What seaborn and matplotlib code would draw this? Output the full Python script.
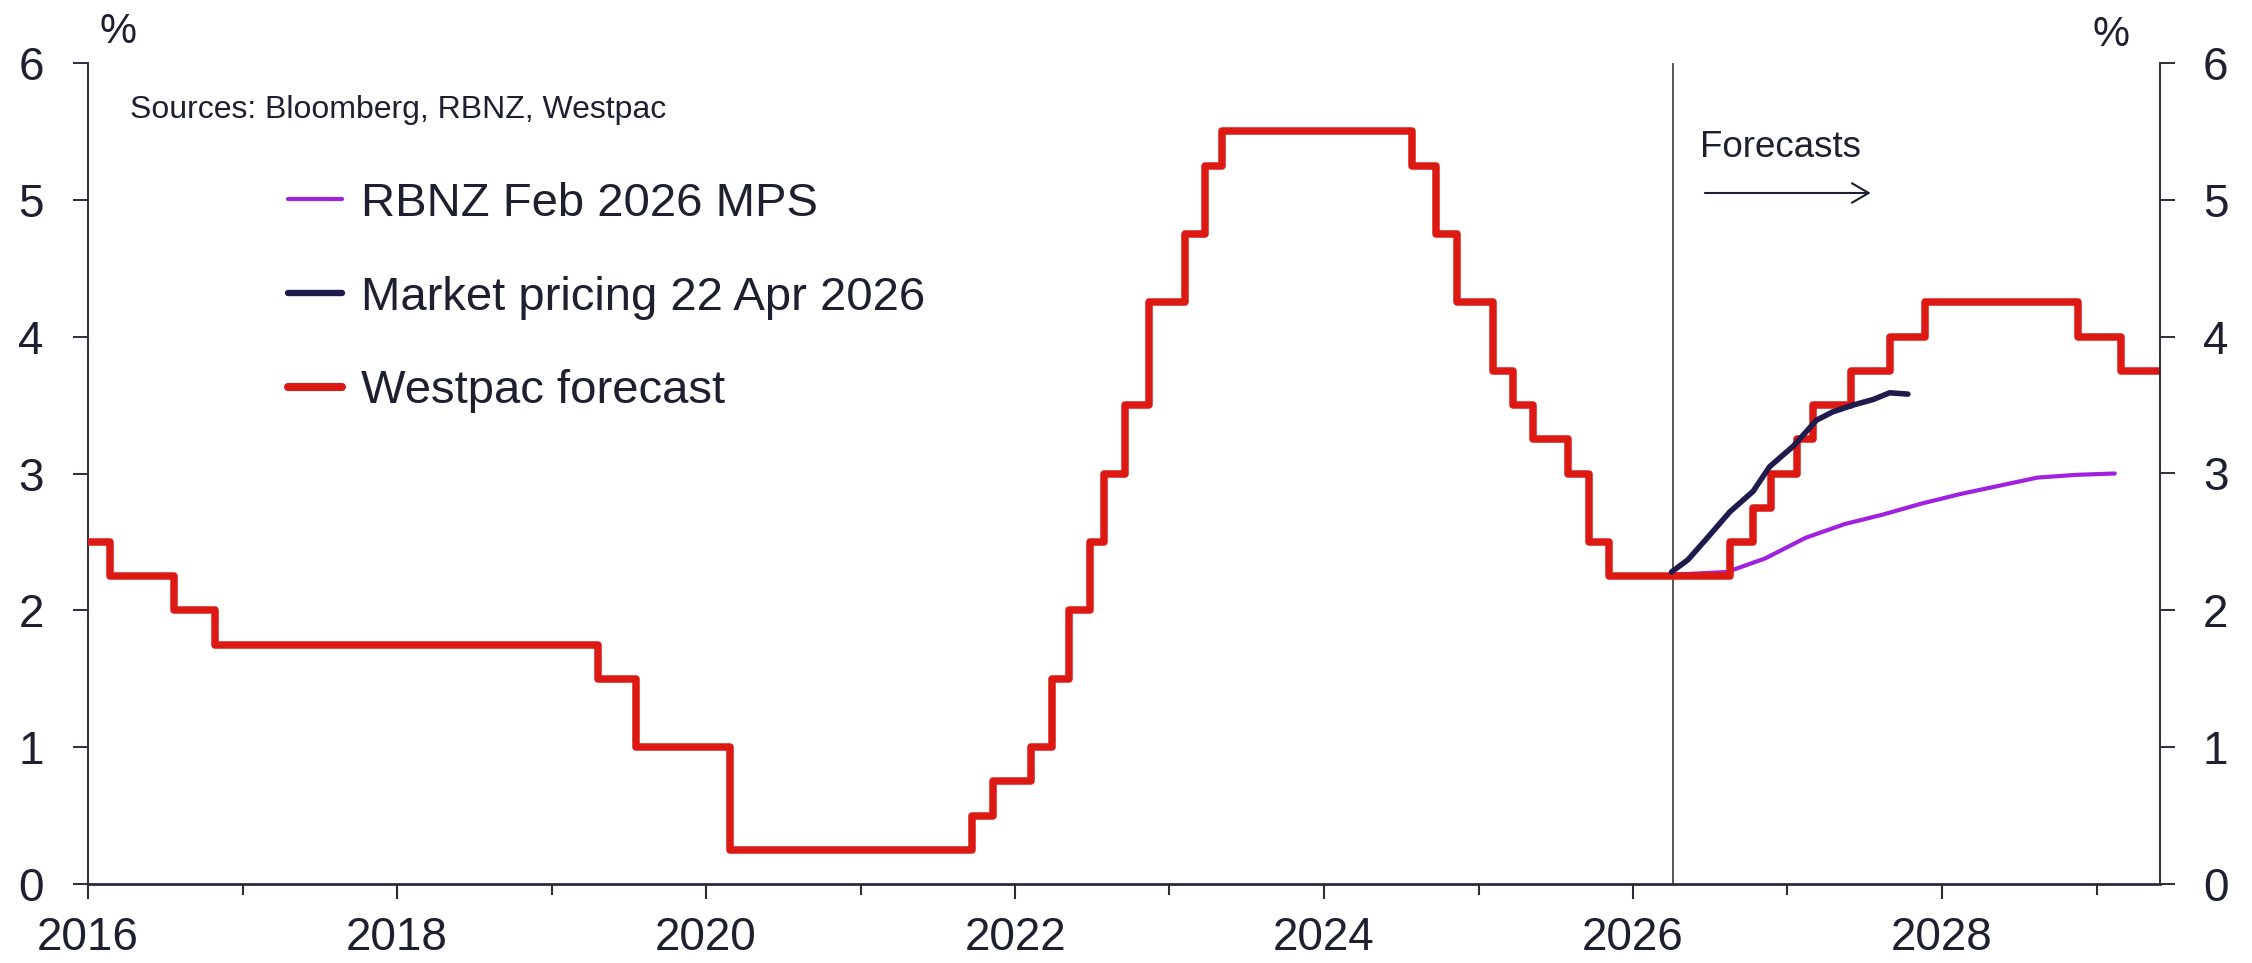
import matplotlib
matplotlib.use("Agg")
import matplotlib.pyplot as plt
import matplotlib.dates as mdates
from matplotlib.lines import Line2D
import pandas as pd
import seaborn as sns

# Westpac OCR path: date each level takes effect and the new level (%)
westpac_dates = [
    "2016-01-01", "2016-02-21", "2016-07-23", "2016-10-27", "2019-04-20",
    "2019-07-20", "2020-02-28", "2021-09-20", "2021-11-10", "2022-02-07",
    "2022-03-29", "2022-05-08", "2022-06-28", "2022-07-31", "2022-09-17",
    "2022-11-14", "2023-02-06", "2023-03-25", "2023-05-05", "2024-07-27",
    "2024-09-22", "2024-11-10", "2025-02-03", "2025-03-23", "2025-05-09",
    "2025-07-31", "2025-09-20", "2025-11-06",
    # forecast
    "2026-08-18", "2026-10-11", "2026-11-23", "2027-01-24", "2027-03-02",
    "2027-06-01", "2027-08-31", "2027-11-22", "2028-11-19", "2029-02-27",
    "2029-06-30",
]
westpac_levels = [
    2.50, 2.25, 2.00, 1.75, 1.50,
    1.00, 0.25, 0.50, 0.75, 1.00,
    1.50, 2.00, 2.50, 3.00, 3.50,
    4.25, 4.75, 5.25, 5.50, 5.25,
    4.75, 4.25, 3.75, 3.50, 3.25,
    3.00, 2.50, 2.25,
    2.50, 2.75, 3.00, 3.25, 3.50,
    3.75, 4.00, 4.25, 4.00, 3.75,
    3.75,
]

# Market-implied OCR, 22 Apr 2026
market_dates = [
    "2026-04-02", "2026-05-11", "2026-06-23", "2026-08-18", "2026-10-12",
    "2026-11-20", "2027-01-15", "2027-03-11", "2027-04-18", "2027-06-05",
    "2027-07-22", "2027-08-31", "2027-10-13",
]
market_rates = [2.28, 2.37, 2.52, 2.72, 2.87, 3.05, 3.20, 3.39, 3.45, 3.50,
                3.54, 3.59, 3.58]

# RBNZ February 2026 Monetary Policy Statement OCR track
mps_dates = [
    "2026-04-05", "2026-08-11", "2026-11-10", "2027-02-13", "2027-05-16",
    "2027-08-15", "2027-11-14", "2028-02-14", "2028-05-15", "2028-08-14",
    "2028-11-13", "2029-02-13",
]
mps_rates = [2.26, 2.28, 2.38, 2.53, 2.63, 2.70, 2.78, 2.85, 2.91, 2.97,
             2.99, 3.00]

forecast_start = "2026-04-05"
x_start, x_end = "2016-01-01", "2029-05-31"
y_ticks = [0, 1, 2, 3, 4, 5, 6]

RED = "#dc1913"
NAVY = "#1f1b4d"
PURPLE = "#a021e0"
INK = "#1e2030"
AXIS = "#2b2d3a"

sns.set_style("ticks")
plt.rcParams["font.family"] = ["Liberation Sans", "DejaVu Sans"]
plt.rcParams["text.color"] = INK

W, H = 2252, 963
fig = plt.figure(figsize=(W / 100, H / 100), dpi=100)
ax = fig.add_axes([88 / W, 1 - 884 / H, (2160 - 88) / W, (884 - 63) / H])

westpac = pd.DataFrame({"date": pd.to_datetime(westpac_dates), "rate": westpac_levels})
market = pd.DataFrame({"date": pd.to_datetime(market_dates), "rate": market_rates})
mps = pd.DataFrame({"date": pd.to_datetime(mps_dates), "rate": mps_rates})

sns.lineplot(data=mps, x="date", y="rate", ax=ax, color=PURPLE, lw=3.0,
             solid_capstyle="round", zorder=2, legend=False)
sns.lineplot(data=westpac, x="date", y="rate", ax=ax, color=RED, lw=5.4,
             drawstyle="steps-post", solid_joinstyle="round", zorder=3,
             legend=False)
sns.lineplot(data=market, x="date", y="rate", ax=ax, color=NAVY, lw=4.0,
             solid_capstyle="round", solid_joinstyle="round", zorder=4,
             legend=False)

ax.axvline(pd.Timestamp(forecast_start), color="#2a2a2a", lw=1.1, zorder=1)

ax.set_xlim(pd.Timestamp(x_start), pd.Timestamp(x_end))
ax.set_ylim(0, 6)
ax.set_yticks(y_ticks)
ax.set_xlabel("")
ax.set_ylabel("")

ax.xaxis.set_major_locator(mdates.YearLocator(2))
ax.xaxis.set_major_formatter(mdates.DateFormatter("%Y"))
ax.xaxis.set_minor_locator(mdates.YearLocator(1))

for s in ["top", "right"]:
    ax.spines[s].set_visible(False)
ax.spines["left"].set_color(AXIS)
ax.spines["left"].set_linewidth(1.4)
ax.spines["bottom"].set_color(AXIS)
ax.spines["bottom"].set_linewidth(2.0)

ax.tick_params(axis="y", which="major", length=10.8, width=1.4, pad=21,
               labelsize=33, color=AXIS, labelcolor=INK)
ax.tick_params(axis="x", which="major", length=10.8, width=1.5, pad=12,
               labelsize=33, color=AXIS, labelcolor=INK)
ax.tick_params(axis="x", which="minor", length=8, width=1.5, color=AXIS)

ax2 = ax.twinx()
ax2.set_ylim(0, 6)
ax2.set_yticks(y_ticks)
for s in ["top", "left", "bottom"]:
    ax2.spines[s].set_visible(False)
ax2.spines["right"].set_color(AXIS)
ax2.spines["right"].set_linewidth(1.4)
ax2.tick_params(axis="y", which="major", length=10.8, width=1.4, pad=20,
                labelsize=33, color=AXIS, labelcolor=INK)

fig.text(118 / W, 1 - 43 / H, "%", fontsize=30, ha="center", va="baseline")
fig.text(2111 / W, 1 - 46 / H, "%", fontsize=30, ha="center", va="baseline")

ax.text((130 - 88) / (2160 - 88), (884 - 118) / (884 - 63),
        "Sources: Bloomberg, RBNZ, Westpac", transform=ax.transAxes,
        fontsize=23, ha="left", va="baseline")

ax.text(mdates.date2num(pd.Timestamp("2026-06-08")), 5.31, "Forecasts",
        fontsize=26.5, ha="left", va="baseline")
ax.annotate("", xy=(mdates.date2num(pd.Timestamp("2027-07-17")), 5.05),
            xytext=(mdates.date2num(pd.Timestamp("2026-06-20")), 5.05),
            arrowprops=dict(arrowstyle="->,head_length=1.2,head_width=0.7",
                            color=INK, lw=1.5, shrinkA=0, shrinkB=0))

handles = [
    Line2D([], [], color=PURPLE, lw=3.0, solid_capstyle="round"),
    Line2D([], [], color=NAVY, lw=4.6, solid_capstyle="round"),
    Line2D([], [], color=RED, lw=5.8, solid_capstyle="round"),
]
labels = ["RBNZ Feb 2026 MPS", "Market pricing 22 Apr 2026", "Westpac forecast"]
fig.legend(handles, labels, loc="upper left",
           bbox_to_anchor=(288 / W, 1 - 182 / H), bbox_transform=fig.transFigure,
           frameon=False, fontsize=34, handlelength=1.15, handletextpad=0.4,
           labelspacing=1.05, borderpad=0, borderaxespad=0, labelcolor=INK)

fig.savefig("out.png", dpi=100)
